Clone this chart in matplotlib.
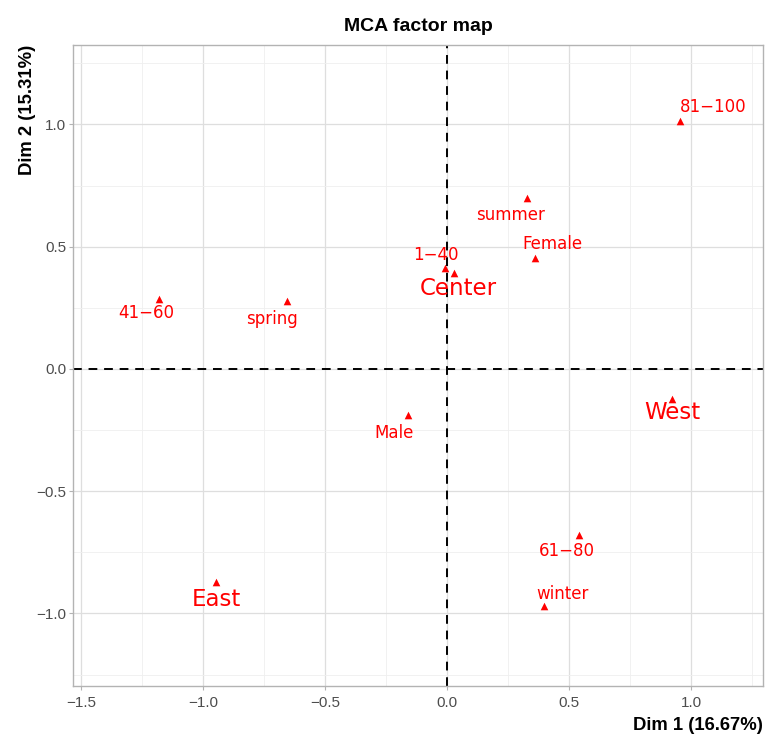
import numpy as np
import matplotlib
matplotlib.use("Agg")
import matplotlib.pyplot as plt
from matplotlib.ticker import MultipleLocator

# category coordinates
labels = ["81−100", "summer", "Female", "1−40", "Center", "41−60",
          "spring", "Male", "West", "61−80", "East", "winter"]
dim1 = [0.955, 0.328, 0.361, -0.008, 0.029, -1.180,
        -0.656, -0.160, 0.922, 0.541, -0.947, 0.398]
dim2 = [1.014, 0.700, 0.454, 0.413, 0.393, 0.286,
        0.278, -0.188, -0.123, -0.679, -0.871, -0.969]
big = ["Center", "West", "East"]  # supplementary variable levels drawn larger

# label offsets in pixels (like ggrepel placing them)
offsets = {"81−100": (33, 14), "summer": (-17, -17), "Female": (17, 14),
           "1−40": (-9, 13), "Center": (4, -16), "41−60": (-13, -14),
           "spring": (-15, -18), "Male": (-14, -18), "West": (0, -14),
           "61−80": (-12, -16), "East": (0, -18), "winter": (18, 12)}

fig = plt.figure(figsize=(7.65, 7.38), dpi=100)
ax = fig.add_axes([73 / 765, 52 / 738, 690 / 765, 641 / 738])

ax.set_xlim(-1.533, 1.295)
ax.set_ylim(-1.297, 1.325)

# ggplot theme_light style grid
ax.xaxis.set_major_locator(MultipleLocator(0.5))
ax.yaxis.set_major_locator(MultipleLocator(0.5))
ax.xaxis.set_minor_locator(MultipleLocator(0.25))
ax.yaxis.set_minor_locator(MultipleLocator(0.25))
ax.grid(which="major", color="#dedede", linewidth=0.9)
ax.grid(which="minor", color="#efefef", linewidth=0.6)
ax.set_axisbelow(True)
for s in ax.spines.values():
    s.set_color("#b3b3b3")
    s.set_linewidth(1.0)
ax.tick_params(which="major", length=3, color="#b3b3b3", labelsize=11,
               labelcolor="#4d4d4d", pad=4)
ax.tick_params(axis="y", pad=2)
ax.tick_params(which="minor", length=0)
for t in ax.get_xticklabels() + ax.get_yticklabels():
    t.set_family("Liberation Sans")

ax.axhline(0, color="black", linestyle=(0, (4.5, 3.5)), linewidth=1.4, zorder=2)
ax.axvline(0, color="black", linestyle=(0, (4.5, 3.5)), linewidth=1.4, zorder=2)

ax.scatter(dim1, dim2, marker="^", s=30, color="red", linewidths=0, zorder=3)
for lab, x, y in zip(labels, dim1, dim2):
    dx, dy = offsets[lab]
    ax.annotate(lab, (x, y), xytext=(dx, dy), textcoords="offset pixels",
                ha="center", va="center", color="red",
                fontsize=16.5 if lab in big else 12, family="DejaVu Sans")

ax.set_title("MCA factor map", fontsize=14, fontweight="bold",
             family="Liberation Sans", pad=10)
ax.set_xlabel("Dim 1 (16.67%)", fontsize=13.3, fontweight="bold",
              family="Liberation Sans", loc="right", labelpad=5)
ax.set_ylabel("Dim 2 (15.31%)", fontsize=13.3, fontweight="bold",
              family="Liberation Sans", loc="top", labelpad=0)

fig.savefig("out.png", dpi=100)
